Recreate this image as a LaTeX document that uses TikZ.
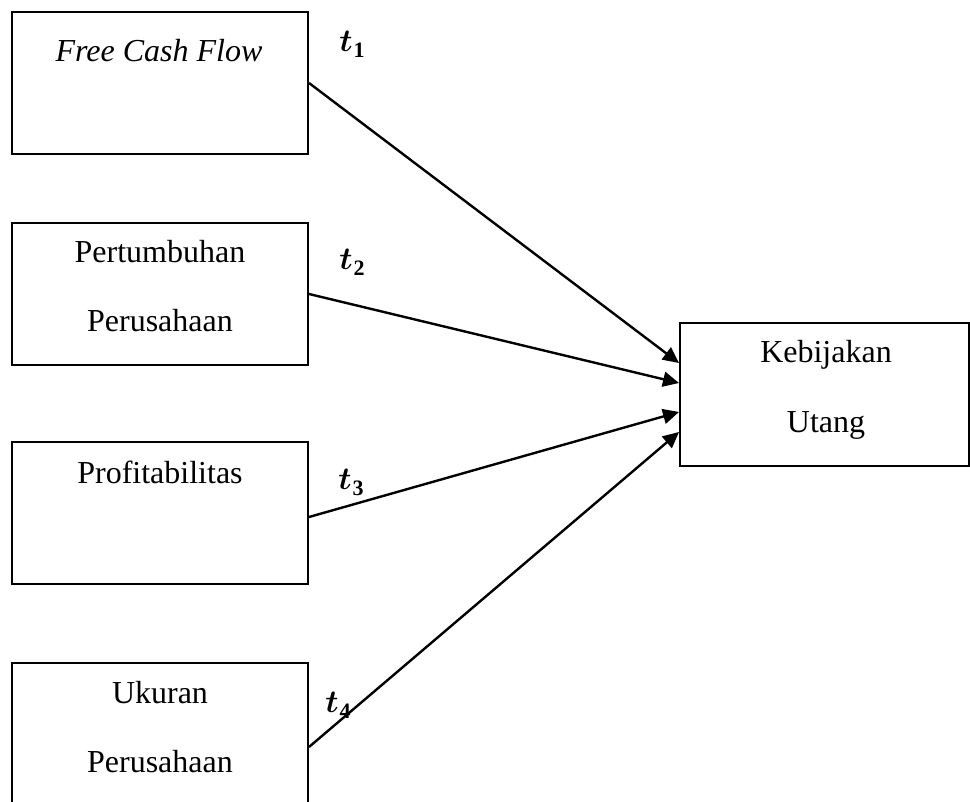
\RequirePackage{fix-cm}
\documentclass[tikz,border=0pt]{standalone}
\usepackage{amsmath,bm}
\usepackage{fontspec}
\setmainfont{Liberation Serif}
\usetikzlibrary{arrows.meta}
\newcommand{\tsub}[1]{$\bm{t}$\kern1pt\raisebox{-6pt}{\fontsize{22}{26}\selectfont\bfseries #1}}
\begin{document}
\begin{tikzpicture}[x=1pt,y=-1pt,
  box/.style={draw, line width=2pt, minimum width=296pt, minimum height=142pt, inner sep=0pt},
  lbl/.style={anchor=base, inner sep=0pt, font=\fontsize{32}{38}\selectfont},
  tlbl/.style={inner sep=0pt, font=\fontsize{32}{38}\selectfont},
  arr/.style={line width=2.4pt, -{Triangle[length=16pt,width=15pt]}}]
\useasboundingbox (0,0) rectangle (970,802);
\clip (0,0) rectangle (970,802);
% boxes
\node[box] (b1) at (160,83) {};
\node[box] (b2) at (160,294) {};
\node[box] (b3) at (160,513) {};
\node[box] (b4) at (160,734) {};
\node[box, minimum width=289pt, minimum height=143pt] (k) at (824.5,394.5) {};
% texts
\node[lbl, font=\fontsize{32}{38}\selectfont\itshape] (l1) at (159,62) {Free Cash Flow};
\node[lbl] (l2a) at (160,263) {Pertumbuhan};
\node[lbl] (l2b) at (160,332) {Perusahaan};
\node[lbl] (l3) at (160,483) {Profitabilitas};
\node[lbl] (l4a) at (160,703) {Ukuran};
\node[lbl] (l4b) at (160,772) {Perusahaan};
\node[lbl] (lka) at (826,363) {Kebijakan};
\node[lbl] (lkb) at (826,433) {Utang};
% connectors
\draw[arr] (b1.east) -- ([yshift=31.5pt]k.west);
\draw[arr] (b2.east) -- ([yshift=11.5pt]k.west);
\draw[arr] ([yshift=-4pt]b3.east) -- ([yshift=-17.5pt]k.west);
\draw[arr] ([yshift=-13pt]b4.east) -- ([yshift=-37.5pt]k.west);
% t labels
\node[tlbl] (t1) at (352,44) {\tsub{1}};
\node[tlbl] (t2) at (352,262) {\tsub{2}};
\node[tlbl] (t3) at (351,482) {\tsub{3}};
\node[tlbl] (t4) at (338,705) {\tsub{4}};
\end{tikzpicture}
\end{document}
